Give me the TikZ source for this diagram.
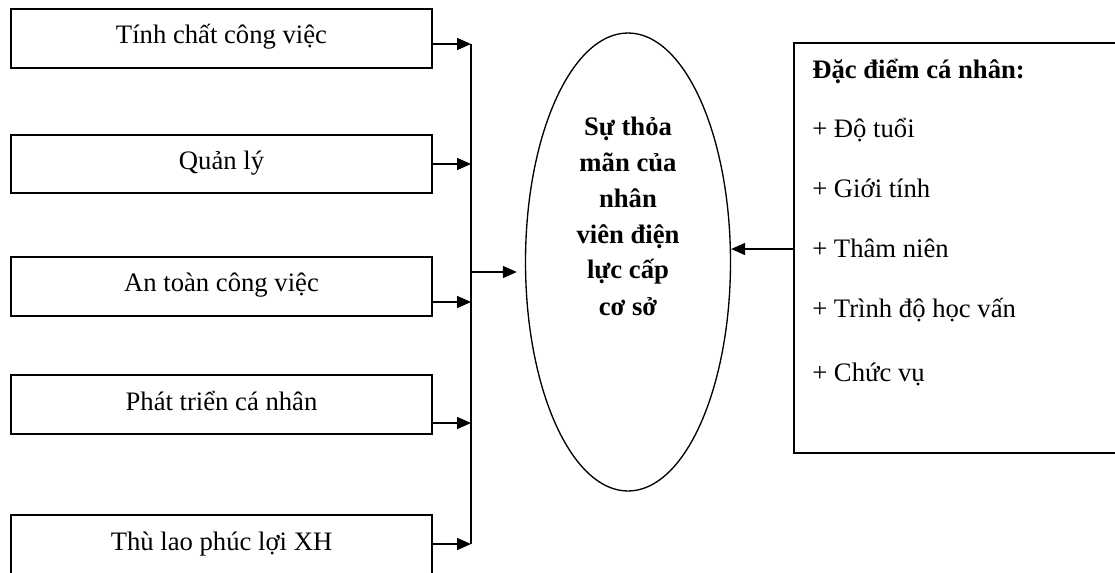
\documentclass[tikz,border=0pt]{standalone}
\usepackage{fontspec}
\setmainfont{Liberation Serif}
\usetikzlibrary{shapes.geometric,arrows.meta}
\begin{document}
\begin{tikzpicture}[x=0.75pt,y=-0.75pt,
  box/.style={draw,line width=1pt,minimum width=315.75pt,inner sep=0pt},
  lbl/.style={font=\fontsize{20}{24}\selectfont,inner sep=0pt,anchor=base},
  blbl/.style={font=\bfseries\fontsize{20}{24}\selectfont,inner sep=0pt,anchor=base},
  rlbl/.style={font=\fontsize{20}{24}\selectfont,inner sep=0pt,anchor=base west},
  wire/.style={line width=1.2pt},
  arr/.style={line width=1.2pt,-{Triangle[length=10.5pt,width=9pt]}}]
\useasboundingbox (0,0) rectangle (1115,572);
% left boxes
\node[box,minimum height=44.25pt] (b1) at (221.5,38.5) {};
\node[box,minimum height=43.5pt]  (b2) at (221.5,164) {};
\node[box,minimum height=44.25pt] (b3) at (221.5,286.5) {};
\node[box,minimum height=44.25pt] (b4) at (221.5,404.5) {};
\node[box,minimum height=75pt]    (b5) at (221.5,565) {};
\node[lbl] (l1) at (221.5,43) {Tính chất công việc};
\node[lbl] (l2) at (221.5,169) {Quản lý};
\node[lbl] (l3) at (221.5,291) {An toàn công việc};
\node[lbl] (l4) at (221.5,410) {Phát triển cá nhân};
\node[lbl] (l5) at (221.5,550) {Thù lao phúc lợi XH};
% ellipse
\node[draw,ellipse,line width=1pt,minimum width=153.75pt,minimum height=343.5pt,inner sep=0pt] (ell) at (628,262) {};
\node[blbl] (e1) at (628,135) {Sự thỏa};
\node[blbl] (e2) at (628,171) {mãn của};
\node[blbl] (e3) at (628,207) {nhân};
\node[blbl] (e4) at (628,243) {viên điện};
\node[blbl] (e5) at (628,278) {lực cấp};
\node[blbl] (e6) at (628,315) {cơ sở};
% right box
\node[draw,line width=1pt,minimum width=252pt,minimum height=307.5pt,inner sep=0pt] (rb) at (962,248) {};
\node[font=\bfseries\fontsize{20}{24}\selectfont,inner sep=0pt,anchor=base west] (r0) at (812,78) {Đặc điểm cá nhân:};
\node[rlbl] (r1) at (812,137) {+ Độ tuổi};
\node[rlbl] (r2) at (812,197) {+ Giới tính};
\node[rlbl] (r3) at (812,257) {+ Thâm niên};
\node[rlbl] (r4) at (812,317) {+ Trình độ học vấn};
\node[rlbl] (r5) at (812,381) {+ Chức vụ};
% bus
\coordinate (t1) at (471,44);
\coordinate (t2) at (471,164);
\coordinate (t3) at (471,302);
\coordinate (t4) at (471,423);
\coordinate (t5) at (471,544);
\coordinate (m) at (471,272);
\coordinate (r) at (794,249);
\draw[wire] (t1) -- (t5);
\draw[arr] (b1.east |- t1) -- (t1);
\draw[arr] (b2.east |- t2) -- (t2);
\draw[arr] (b3.east |- t3) -- (t3);
\draw[arr] (b4.east |- t4) -- (t4);
\draw[arr] (b5.east |- t5) -- (t5);
\draw[arr] (m) -- ([xshift=-6pt]ell.west |- m);
\draw[arr] (rb.west |- r) -- (ell.east |- r);
\end{tikzpicture}
\end{document}
